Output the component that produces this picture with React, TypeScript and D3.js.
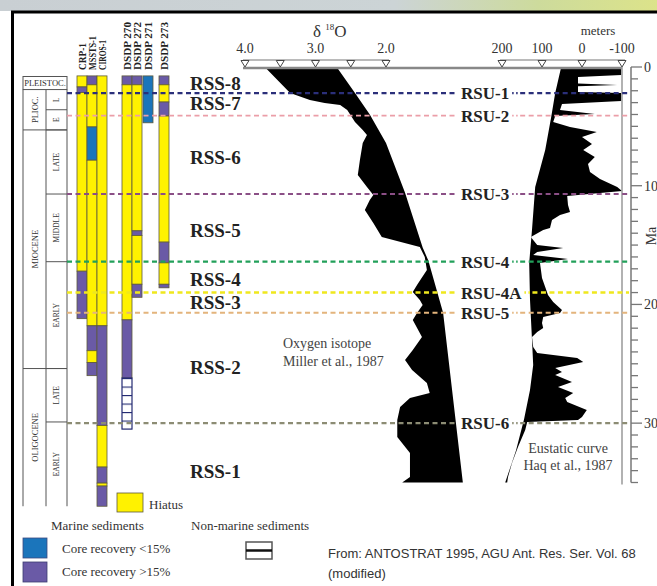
import React from "react";
import * as d3 from "d3";

// ---- data (ages in Ma) ----
const SITES = ["CRP-1", "MSSTS-1", "CIROS-1", "DSDP 270", "DSDP 272", "DSDP 271", "DSDP 273"];

// [site, top, base, facies]
const CORE_INTERVALS: [string, number, number, string][] = [
  ["CRP-1", 0.75, 1.68, "hiatus"], ["CRP-1", 1.68, 2.15, "high"], ["CRP-1", 2.15, 17.2, "hiatus"], ["CRP-1", 17.2, 21.2, "high"],
  ["MSSTS-1", 0.75, 1.5, "high"], ["MSSTS-1", 1.5, 5.05, "hiatus"], ["MSSTS-1", 5.05, 7.85, "low"], ["MSSTS-1", 7.85, 21.8, "hiatus"],
  ["MSSTS-1", 21.8, 23.9, "high"], ["MSSTS-1", 23.9, 24.9, "hiatus"], ["MSSTS-1", 24.9, 26.0, "high"],
  ["CIROS-1", 0.75, 21.8, "hiatus"], ["CIROS-1", 21.8, 30.2, "high"], ["CIROS-1", 30.2, 33.7, "hiatus"],
  ["CIROS-1", 33.7, 35.05, "high"], ["CIROS-1", 35.05, 35.3, "hiatus"], ["CIROS-1", 35.3, 37.0, "high"],
  ["DSDP 270", 0.75, 1.5, "high"], ["DSDP 270", 1.5, 21.3, "hiatus"], ["DSDP 270", 21.3, 26.2, "high"], ["DSDP 270", 26.2, 30.5, "nonmarine"],
  ["DSDP 272", 0.75, 1.5, "high"], ["DSDP 272", 1.5, 13.8, "hiatus"], ["DSDP 272", 13.8, 14.2, "high"],
  ["DSDP 272", 14.2, 18.3, "hiatus"], ["DSDP 272", 18.3, 19.4, "high"],
  ["DSDP 271", 0.75, 4.7, "low"],
  ["DSDP 273", 0.75, 1.5, "high"], ["DSDP 273", 1.5, 2.95, "hiatus"], ["DSDP 273", 2.95, 4.13, "high"],
  ["DSDP 273", 4.13, 14.75, "hiatus"], ["DSDP 273", 14.75, 16.5, "high"], ["DSDP 273", 16.5, 18.3, "hiatus"], ["DSDP 273", 18.3, 18.6, "high"],
];

const EPOCHS: [string, number, number][] = [
  ["PLIOC.", 1.9, 5.3], ["MIOCENE", 5.3, 25.4], ["OLIGOCENE", 25.4, 37.0],
];
const PLEISTOCENE: [string, number, number] = ["PLEISTOC.", 0.8, 1.9];
const SUB_EPOCHS: [string, number, number][] = [
  ["L", 1.9, 3.6], ["E", 3.6, 5.3], ["LATE", 5.3, 10.7], ["MIDDLE", 10.7, 16.4],
  ["EARLY", 16.4, 25.4], ["LATE", 25.4, 29.9], ["EARLY", 29.9, 37.0],
];

const SEQUENCES: [string, number][] = [
  ["RSS-8", 1.4], ["RSS-7", 3.1], ["RSS-6", 7.6], ["RSS-5", 13.8],
  ["RSS-4", 17.9], ["RSS-3", 19.8], ["RSS-2", 25.3], ["RSS-1", 34.1],
];
const UNCONFORMITIES: [string, number][] = [
  ["RSU-1", 2.2], ["RSU-2", 4.1], ["RSU-3", 10.7], ["RSU-4", 16.4],
  ["RSU-4A", 19.0], ["RSU-5", 20.7], ["RSU-6", 30.0],
];

// oxygen isotope (per mil): data edge and trend edge
const D18O_CURVE: [number, number][] = [
  [0, 3.72], [2.19, 3.36], [2.78, 3.08], [3.03, 2.87], [3.2, 2.65], [3.62, 2.55], [4.63, 2.44], [5.31, 2.33],
  [5.73, 2.27], [6.4, 2.33], [7.83, 2.37], [9.1, 2.4], [10.11, 2.27], [10.78, 2.18], [11.2, 2.23], [12.05, 2.3],
  [13.14, 2.18], [14.32, 2.06], [15.16, 1.52], [16.0, 1.45], [17.1, 1.42], [18.37, 1.56], [18.96, 1.62],
  [19.63, 1.52], [20.05, 1.48], [20.72, 1.56], [21.31, 1.62], [22.75, 1.49], [23.84, 1.62], [24.68, 1.73],
  [25.53, 1.63], [26.62, 1.42], [27.46, 1.38], [27.89, 1.66], [28.64, 1.8], [29.74, 1.84], [31.17, 1.84],
  [32.52, 1.66], [34.54, 1.66], [35, 1.77],
];
const D18O_TREND: [number, number][] = [
  [0, 2.7], [2.2, 2.44], [4.0, 2.23], [6.4, 2.0], [10.6, 1.73], [15.2, 1.48], [16.3, 1.4], [20.7, 1.19], [35, 0.91],
];

// eustatic sea level (m): short-term edge and long-term edge
const SEA_SHORT: [number, number][] = [
  [0, -98], [0.67, -98], [0.84, 10], [1.4, 10], [1.52, -88], [1.62, 10], [2.1, 10], [2.19, -98], [2.86, -98],
  [3.12, 50], [3.62, 55], [3.96, -32], [4.13, 67], [4.63, 72], [5.05, 30], [5.48, -37], [5.9, 0], [6.49, -25],
  [6.99, -3], [7.58, -32], [8.17, -15], [8.85, -20], [9.44, -45], [10.11, -88], [10.45, -100], [10.87, 37],
  [11.63, 35], [12.22, 30], [12.47, 55], [12.89, 75], [13.56, 80], [13.73, 97], [14.32, 128], [15.0, 112],
  [15.25, 47], [15.59, 112], [15.84, 122], [16.18, 35], [16.51, 105], [17.78, 100], [18.53, 92], [19.21, 85],
  [19.8, 72], [20.47, 50], [20.72, 55], [21.06, 97], [21.57, 100], [21.99, 97], [22.33, 112], [22.75, 125],
  [23.59, 122], [24.09, 112], [24.52, 12], [24.85, -3], [25.36, 67], [25.69, 50], [25.95, 67], [26.54, 25],
  [26.96, 60], [27.46, 22], [27.89, 42], [28.22, 37], [28.9, -12], [29.49, 0], [29.74, 10], [29.9, 137],
  [30.58, 142], [32.01, 160], [33.36, 175], [34.54, 185], [35, 187],
];
const SEA_LONG: [number, number][] = [
  [0, 52], [2.19, 67], [4.21, 77], [7.0, 92], [10.11, 117], [13.7, 125], [16.5, 132], [19.6, 130],
  [23.0, 125], [25.1, 122], [27.2, 130], [29.7, 145], [32.3, 165], [35, 192],
];

const ISO_TICKS = [4.0, 3.5, 3.0, 2.5, 2.0];
const ISO_LABELS = [4.0, 3.0, 2.0];
const SEA_TICKS = [200, 100, 0, -100];
const MA_LABELS = [0, 10, 20, 30];

// ---- layout / style ----
const W = 657;
const H = 586;
const SERIF = "'Liberation Serif', 'Times New Roman', serif";
const SANS = "'Liberation Sans', Arial, sans-serif";

const COL_X: Record<string, number> = {
  "CRP-1": 77, "MSSTS-1": 87, "CIROS-1": 97, "DSDP 270": 122, "DSDP 272": 132, "DSDP 271": 143, "DSDP 273": 159,
};
const COL_W = 10;
const HEADER_LEN: Record<string, number> = {
  "CRP-1": 27, "MSSTS-1": 34, "CIROS-1": 30, "DSDP 270": 48, "DSDP 272": 48, "DSDP 271": 48, "DSDP 273": 48,
};
const FACIES_FILL: Record<string, string> = {
  hiatus: "#fff200", high: "#6a5aa6", low: "#1b75bb", nonmarine: "url(#nonmarine)",
};
const RSU_STYLE: Record<string, { color: string; w: number }> = {
  "RSU-1": { color: "#2b2f7a", w: 2.4 },
  "RSU-2": { color: "#eb9ea8", w: 1.8 },
  "RSU-3": { color: "#8b4f86", w: 2.1 },
  "RSU-4": { color: "#22a05a", w: 2.2 },
  "RSU-4A": { color: "#efe81e", w: 2.6 },
  "RSU-5": { color: "#e3b47c", w: 2.2 },
  "RSU-6": { color: "#8c8c74", w: 2.1 },
};

const yMa = d3.scaleLinear().domain([0, 35]).range([67, 482.5]);
const xIso = d3.scaleLinear().domain([4, 2]).range([245, 386]);
const xSea = d3.scaleLinear().domain([200, -100]).range([502, 622]);

const TS = { x0: 23, x1: 46, x2: 67 };

function bandPath(edge: [number, number][], back: [number, number][], x: d3.ScaleLinear<number, number>) {
  const line = d3.line<[number, number]>().x(d => x(d[1])).y(d => yMa(d[0]));
  return line([...edge, ...back.slice().reverse()]) + "Z";
}

// bold Times advance widths, for the gap behind RSU labels
const BOLD_W: Record<string, number> = { R: 0.722, S: 0.556, U: 0.722, A: 0.722, "-": 0.333 };
const labelWidth = (s: string, size: number) =>
  s.split("").reduce((a, c) => a + (BOLD_W[c] ?? 0.5), 0) * size;

export default function App() {
  const rsuSize = 17;
  const labelX = 461;
  const ink = "#222";

  return (
    <svg width={W} height={H} style={{ position: "absolute", left: 0, top: 0, display: "block", background: "#fff" }}>
      <defs>
        <linearGradient id="mapstrip" x1="0" x2="1" y1="0" y2="0">
          <stop offset="0" stopColor="#c9cfd3" />
          <stop offset="0.6" stopColor="#ccd4d6" />
          <stop offset="0.82" stopColor="#cddb9c" />
          <stop offset="1" stopColor="#dce38a" />
        </linearGradient>
        <pattern id="nonmarine" patternUnits="userSpaceOnUse" width={COL_W} height={8.5} y={yMa(26.2)}>
          <rect width={COL_W} height={8.5} fill="#fff" />
          <line x1={0} x2={COL_W} y1={0} y2={0} stroke="#232a72" strokeWidth={2.2} />
        </pattern>
      </defs>

      {/* map strip and frame */}
      <rect x={0} y={0} width={W} height={11} fill="url(#mapstrip)" />
      <rect x={12.5} y={12} width={W + 20} height={H + 20} fill="#fff" stroke="#000" strokeWidth={3} />

      {/* time scale */}
      <g stroke="#555" strokeWidth={1} fill="none">
        <rect x={TS.x0} y={yMa(PLEISTOCENE[1])} width={TS.x2 - TS.x0} height={yMa(PLEISTOCENE[2]) - yMa(PLEISTOCENE[1])} />
        {[TS.x0, TS.x1, TS.x2].map(x => (
          <line key={x} x1={x} x2={x} y1={yMa(1.9)} y2={yMa(37)} />
        ))}
        {EPOCHS.slice(1).map(([n, t]) => (
          <line key={n} x1={TS.x0} x2={TS.x2} y1={yMa(t)} y2={yMa(t)} />
        ))}
        {SUB_EPOCHS.slice(1).map(([n, t], i) => (
          <line key={n + i} x1={TS.x1} x2={TS.x2} y1={yMa(t)} y2={yMa(t)} />
        ))}
      </g>
      <text x={(TS.x0 + TS.x2) / 2} y={(yMa(PLEISTOCENE[1]) + yMa(PLEISTOCENE[2])) / 2 + 3} textAnchor="middle"
        fontFamily={SERIF} fontSize={8.5} fill="#333">{PLEISTOCENE[0]}</text>
      {EPOCHS.map(([n, t, b]) => (
        <text key={n} transform={`translate(${(TS.x0 + TS.x1) / 2},${(yMa(t) + yMa(b)) / 2}) rotate(-90)`}
          textAnchor="middle" dominantBaseline="central" fontFamily={SERIF} fontSize={8.5} fill="#333">{n}</text>
      ))}
      {SUB_EPOCHS.map(([n, t, b], i) => (
        <text key={n + i} transform={`translate(${(TS.x1 + TS.x2) / 2},${(yMa(t) + yMa(b)) / 2}) rotate(-90)`}
          textAnchor="middle" dominantBaseline="central" fontFamily={SERIF} fontSize={7.5} fill="#333">{n}</text>
      ))}

      {/* site headers */}
      {SITES.map(s => (
        <text key={s} transform={`translate(${COL_X[s] + 8.5},70) rotate(-90)`} fontFamily={SERIF} fontWeight="bold"
          fontSize={11} fill={ink} textLength={HEADER_LEN[s]} lengthAdjust="spacingAndGlyphs">{s}</text>
      ))}

      {/* core columns */}
      {CORE_INTERVALS.map(([s, t, b, f], i) => (
        <rect key={i} x={COL_X[s]} y={yMa(t)} width={COL_W} height={yMa(b) - yMa(t)} fill={FACIES_FILL[f]}
          stroke={f === "nonmarine" ? "#232a72" : "#5e5a3c"} strokeWidth={f === "nonmarine" ? 1.2 : 0.8} />
      ))}

      {/* isotope and sea level curves */}
      <path d={bandPath(D18O_CURVE, D18O_TREND, xIso)} fill="#000" />
      <path d={bandPath(SEA_SHORT, SEA_LONG, xSea)} fill="#000" />

      {/* top axes */}
      <line x1={243} x2={622} y1={68} y2={68} stroke="#888" strokeWidth={2.5} />
      <line x1={xIso(4) - 2} x2={xIso(2) + 3} y1={60} y2={60} stroke="#777" strokeWidth={1.2} />
      <line x1={xSea(200) - 2} x2={xSea(-100) + 3} y1={60} y2={60} stroke="#777" strokeWidth={1.2} />
      {ISO_TICKS.map(v => (
        <path key={"i" + v} d="M-4,0L4,0L0,6.5Z" transform={`translate(${xIso(v)},60.5)`} fill="#fff" stroke="#444" strokeWidth={1} />
      ))}
      {SEA_TICKS.map(v => (
        <path key={"s" + v} d="M-4,0L4,0L0,6.5Z" transform={`translate(${xSea(v)},60.5)`} fill="#fff" stroke="#444" strokeWidth={1} />
      ))}
      {ISO_LABELS.map(v => (
        <text key={v} x={xIso(v)} y={53} textAnchor="middle" fontFamily={SERIF} fontSize={14} fill="#333">{v.toFixed(1)}</text>
      ))}
      {SEA_TICKS.map(v => (
        <text key={v} x={xSea(v)} y={53} textAnchor="middle" fontFamily={SERIF} fontSize={14} fill="#333">{v}</text>
      ))}
      <text x={313} y={37} fontFamily={SERIF} fontSize={17} fill="#333">
        δ <tspan fontSize={9} dy={-7}>18</tspan><tspan dy={7}>O</tspan>
      </text>
      <text x={598} y={35} textAnchor="middle" fontFamily={SERIF} fontSize={13} fill="#333">meters</text>

      {/* Ma axis */}
      <line x1={622} x2={622} y1={yMa(0)} y2={yMa(35) + 2} stroke="#999" strokeWidth={1.5} />
      <line x1={631} x2={631} y1={yMa(0)} y2={yMa(35)} stroke="#777" strokeWidth={1.5} />
      {d3.range(0, 36).map(v => (
        <line key={v} x1={631} x2={v % 10 === 0 ? 642 : 638} y1={yMa(v)} y2={yMa(v)} stroke="#777" strokeWidth={1.3} />
      ))}
      {MA_LABELS.map(v => (
        <text key={v} x={644} y={yMa(v) + 5} fontFamily={SERIF} fontSize={14} fill="#333">{v}</text>
      ))}
      <text transform="translate(651,236) rotate(-90)" textAnchor="middle" dominantBaseline="central"
        fontFamily={SERIF} fontSize={14} fill="#333">Ma</text>

      {/* unconformities */}
      {UNCONFORMITIES.map(([n, ma]) => {
        const st = RSU_STYLE[n];
        const y = yMa(ma);
        const gapEnd = labelX + labelWidth(n, rsuSize) + 3;
        return (
          <g key={n}>
            <line x1={TS.x2} x2={labelX - 4} y1={y} y2={y} stroke={st.color} strokeWidth={st.w} strokeDasharray="5 3.5" />
            <line x1={gapEnd} x2={629} y1={y} y2={y} stroke={st.color} strokeWidth={st.w} strokeDasharray="1.5 2.5 1.5 2.5 5 3.5 5 3.5 5 3.5 5 3.5 5 3.5 5 3.5 5 3.5 5 3.5 5 3.5 5 3.5 5 3.5 5 3.5 5 3.5 5 3.5 5 3.5 5 3.5" />
            <text x={labelX} y={y + 6} fontFamily={SERIF} fontWeight="bold" fontSize={rsuSize} fill={ink}>{n}</text>
          </g>
        );
      })}

      {/* sequences */}
      {SEQUENCES.map(([n, ma]) => (
        <text key={n} x={190} y={yMa(ma) + 6.5} fontFamily={SERIF} fontWeight="bold" fontSize={19} fill={ink}>{n}</text>
      ))}

      {/* curve captions */}
      <g fontFamily={SERIF} fontSize={14} fill="#444">
        <text x={283} y={348}>Oxygen isotope</text>
        <text x={283} y={366}>Miller et al., 1987</text>
        <text x={568} y={453} textAnchor="middle">Eustatic curve</text>
        <text x={568} y={470} textAnchor="middle">Haq et al., 1987</text>
      </g>

      {/* legend */}
      <rect x={117} y={493} width={26} height={19} fill={FACIES_FILL.hiatus} stroke="#5e5a3c" strokeWidth={0.8} />
      <g fontFamily={SERIF} fontSize={13} fill="#333">
        <text x={149} y={509}>Hiatus</text>
        <text x={51} y={530}>Marine sediments</text>
        <text x={191} y={530}>Non-marine sediments</text>
        <text x={62} y={553}>Core recovery &lt;15%</text>
        <text x={62} y={576}>Core recovery &gt;15%</text>
      </g>
      <rect x={23} y={538} width={24} height={20} fill={FACIES_FILL.low} stroke="#3c4a80" strokeWidth={0.8} />
      <rect x={23} y={562} width={24} height={20} fill={FACIES_FILL.high} stroke="#3c3c70" strokeWidth={0.8} />
      <rect x={246} y={542} width={26} height={17} fill="#fff" stroke="#555" strokeWidth={1.5} />
      <line x1={246} x2={272} y1={550.5} y2={550.5} stroke="#111" strokeWidth={2.5} />
      <g fontFamily={SANS} fontSize={13} fill="#333">
        <text x={328} y={558}>From: ANTOSTRAT 1995, AGU Ant. Res. Ser. Vol. 68</text>
        <text x={328} y={578}>(modified)</text>
      </g>
    </svg>
  );
}
